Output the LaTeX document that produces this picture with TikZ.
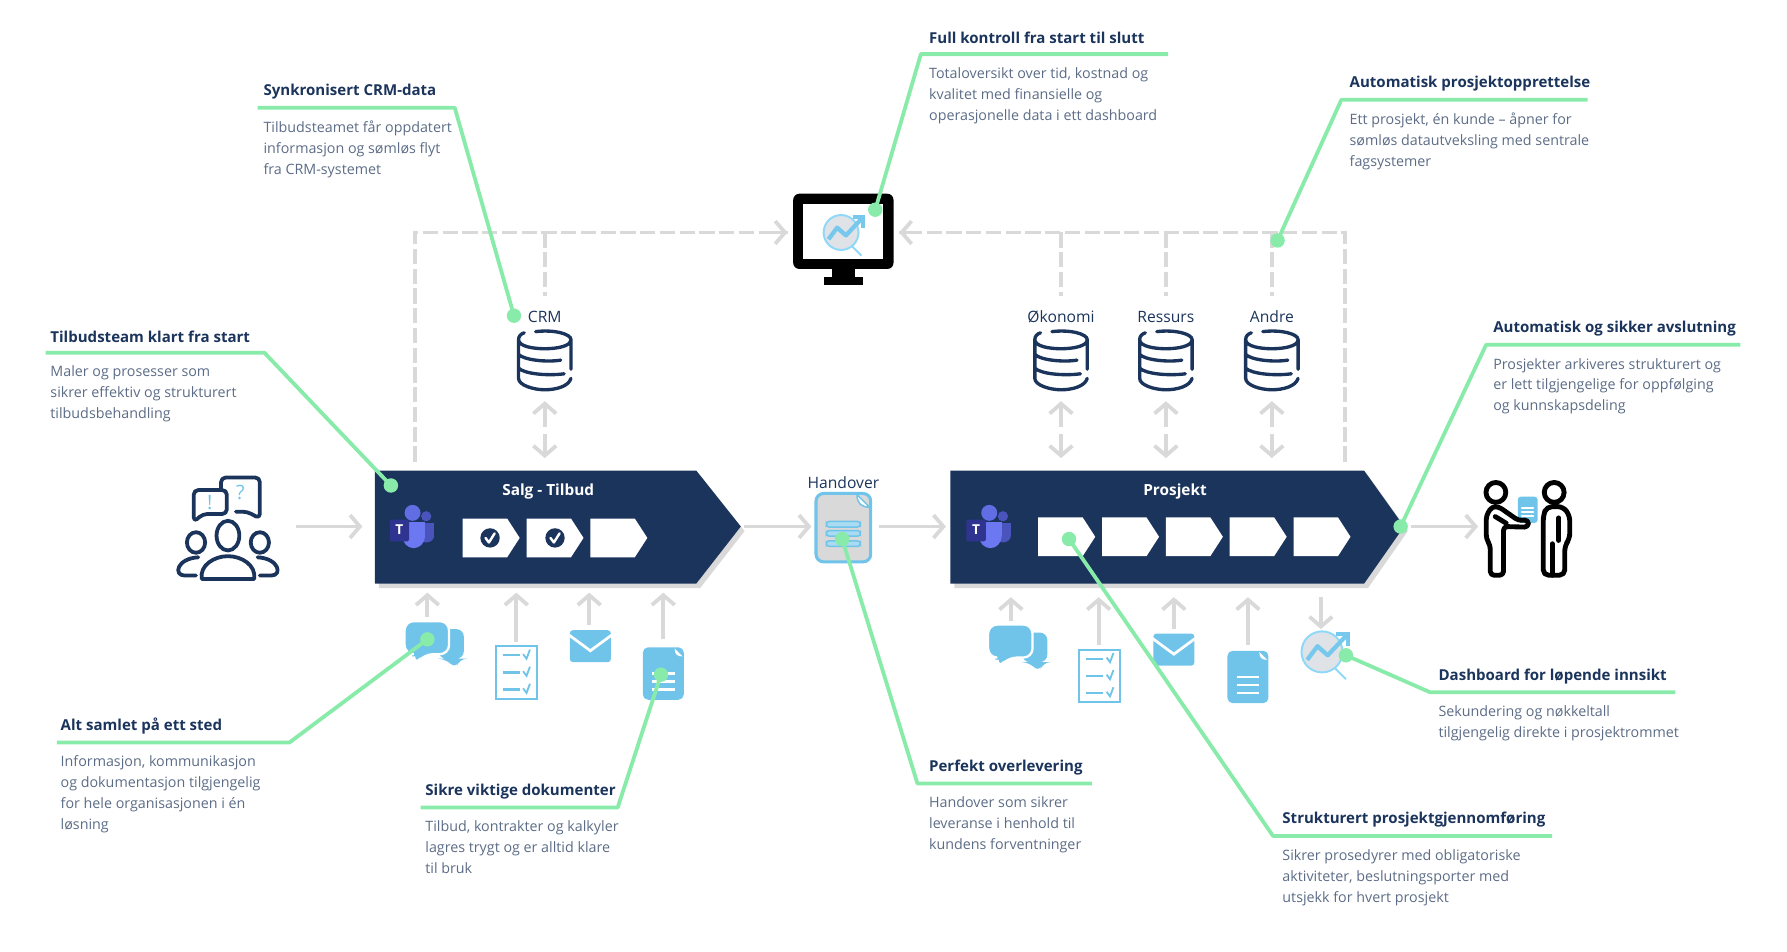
\documentclass[tikz,border=0pt]{standalone}
\usepackage{fontspec}
\setmainfont{Open Sans}
\usepackage{xcolor}
\usetikzlibrary{arrows.meta,shadows}

\definecolor{navy}{HTML}{1B345C}
\definecolor{bodytext}{HTML}{5C6C86}
\definecolor{mint}{HTML}{88EBA9}
\definecolor{arrowgrey}{HTML}{D9D9D9}
\definecolor{skyblue}{HTML}{70C4EA}
\definecolor{lensgrey}{HTML}{DFE3E8}
\definecolor{lensblue}{HTML}{8FD8F8}
\definecolor{teamsback}{HTML}{4B53BC}
\definecolor{teamsfront}{HTML}{6B78F2}
\definecolor{teamsdark}{HTML}{2E3490}

\tikzset{
greyarrow/.style={draw=arrowgrey,line width=2.5pt,-{Straight Barb[length=6.5pt,width=15pt,line width=2.5pt]}},
greydash/.style={draw=arrowgrey,line width=2.5pt,dash pattern=on 10pt off 3pt},
headtext/.style={anchor=west,inner sep=0pt,yshift=-1pt,text=navy,font=\fontsize{9.9}{13}\selectfont\bfseries},
bodynote/.style={anchor=north west,inner sep=0pt,yshift=-1.5pt,align=left,text=bodytext,font=\fontsize{9.4}{13.75}\selectfont},
labeltext/.style={inner sep=0pt,yshift=-0.8pt,text=navy,font=\fontsize{10.3}{13}\selectfont},
boxtitle/.style={inner sep=0pt,yshift=-1.8pt,text=white,font=\fontsize{10.1}{13}\selectfont\bfseries},
calloutline/.style={draw=mint,line width=2.5pt,line join=round},
calloutdot/.style={circle,fill=mint,inner sep=0pt,minimum size=9.5pt},
pics/database/.style={code={
  \draw[navy,line width=2.2pt,line cap=round]
    (-8,-25) .. controls (8,-27) and (23,-23) .. (23,-18) .. controls (23,-12) and (10,-10) .. (0,-10)
    .. controls (-10,-10) and (-23,-12) .. (-23,-18) .. controls (-23,-21) and (-21,-23) .. (-18,-24)
    (-23,-18) -- (-23,16) .. controls (-23,22) and (-10,26) .. (0,26) .. controls (10,26) and (21,23) .. (23,16)
    (23,-18) -- (23,8)
    (-23,-5) .. controls (-18,0) and (2,2) .. (14,0)
    (-23,7) .. controls (-18,12) and (2,14) .. (17,12);
}},
pics/teamsicon/.style={code={
  \fill[teamsback] (13,-9) circle [radius=4.5];
  \fill[teamsback] (7,-3) rectangle (20,8);
  \fill[teamsback] (13,8) ellipse [x radius=7,y radius=6];
  \fill[teamsfront!70!teamsback] (1,-12) circle [radius=7];
  \fill[teamsfront] (-8,-4) rectangle (12,8);
  \fill[teamsfront] (2,8) ellipse [x radius=10,y radius=11];
  \fill[teamsdark,rounded corners=1pt] (-19,-6) rectangle (-2,13);
  \node[inner sep=0pt,text=white,font=\fontsize{9}{9}\selectfont\bfseries] (teamsT) at (-10.5,3) {T};
}},
pics/checkmark/.style={code={
  \fill[navy] (0,0) circle [radius=8.5];
  \draw[white,line width=1.6pt,line cap=round,line join=round] (-4,0) -- (-1,4) -- (4,-4);
}},
pics/chatbubbles/.style={code={
  \fill[skyblue,rounded corners=5pt] (4,-14) -- (26,-14) -- (26,12) -- (22,12) -- (19,21) -- (10,12) -- (4,12) -- cycle;
  \fill[skyblue,draw=white,line width=1.5pt,rounded corners=6pt] (-26,-21) -- (13,-21) -- (13,8) -- (-9,8) -- (-17,18) -- (-18,8) -- (-26,8) -- cycle;
}},
pics/checklist/.style={code={
  \draw[skyblue,fill=white,line width=1.4pt] (-18,-23) rectangle (18,23);
  \foreach \y in {-12,3,18}{
    \draw[skyblue,line width=1.5pt] (-12,\y-3) -- (3,\y-3);
    \draw[skyblue,line width=1.2pt] (6,\y-4) -- (9,\y) -- (12,\y-8);
  }
}},
pics/mailicon/.style={code={
  \fill[skyblue,rounded corners=2pt] (-18,-14) rectangle (18,14);
  \draw[white,line width=1.8pt] (-19,-10) -- (0,4) -- (19,-10);
}},
pics/docicon/.style={code={
  \fill[skyblue,rounded corners=3.5pt] (-18,-23) rectangle (18,23);
  \fill[white] (10,-22) -- (17,-15) .. controls (12,-15) and (10,-17) .. (10,-22);
  \foreach \y in {0,7,14}{
    \draw[white,line width=1.4pt] (-10,\y) -- (10,\y);
  }
}},
pics/chartlens/.style={code={
  \draw[lensblue,fill=lensgrey,line width=1.3pt] (0,0) circle [radius=18];
  \draw[lensblue,line width=1.3pt] (11,14) -- (21,24);
  \draw[skyblue!80!lensblue,line width=2.8pt,line join=round] (-13,7) -- (-4,-5) -- (5,3) -- (21,-14);
  \draw[skyblue!80!lensblue,line width=2.8pt] (12,-16) -- (23,-16) -- (23,-5);
}},
}

% one heading with its note and its green leader
\newcommand{\callout}[8]{
\node[headtext] (#1-head) at (#2,#3) {#4};
\node[bodynote] (#1-note) at (#2,#3+25) {#5};
\coordinate (#1-start) at (#6,#3+15.5);
\coordinate (#1-corner) at (#7,#3+15.5);
\node[calloutdot] (#1-dot) at (#8) {};
\draw[calloutline] (#1-start) -- (#1-corner) -- (#1-dot.center);
}

\begin{document}
\begin{tikzpicture}[x=0.75pt,y=-0.75pt]
\useasboundingbox (0,0) rectangle (1568,835.3);

% The dashed collectors
\coordinate (leftfoot) at (364,405);
\coordinate (leftcorner) at (364,204);
\coordinate (rightfoot) at (1180,405);
\coordinate (rightcorner) at (1180,204);
\coordinate (screenleft) at (691,204);
\coordinate (screenright) at (789,204);
\draw[greydash] (leftfoot) -- (leftcorner) -- (screenleft);
\draw[greydash] (rightfoot) -- (rightcorner) -- (screenright);
\draw[greyarrow] ([xshift=-14pt]screenleft) -- (screenleft);
\draw[greyarrow] ([xshift=14pt]screenright) -- (screenright);

% The databases
\foreach \dbname/\dbx/\dbtext in {crm/478/CRM,okonomi/931/Økonomi,ressurs/1023/Ressurs,andre/1116/Andre}{
  \node[labeltext] (\dbname-label) at (\dbx,277) {\dbtext};
  \pic at (\dbx,316) {database};
  \coordinate (\dbname-top) at (\dbx,204);
  \coordinate (\dbname-drop) at (\dbx,260);
  \coordinate (\dbname-up) at (\dbx,352);
  \coordinate (\dbname-mid) at (\dbx,377);
  \coordinate (\dbname-down) at (\dbx,402);
  \draw[greydash] (\dbname-top) -- (\dbname-drop);
  \draw[greyarrow] ([yshift=2pt]\dbname-mid) -- (\dbname-up);
  \draw[greyarrow] ([yshift=-3pt]\dbname-mid) -- (\dbname-down);
}

% The two process arrows
\coordinate (salgA) at (329,413);
\coordinate (salgB) at (611,413);
\coordinate (salgC) at (650,462);
\coordinate (salgD) at (611,512);
\coordinate (salgE) at (329,512);
\fill[navy,drop shadow={shadow xshift=2.5pt,shadow yshift=-3pt,opacity=.3}] (salgA) -- (salgB) -- (salgC) -- (salgD) -- (salgE) -- cycle;
\coordinate (prosjektA) at (834,413);
\coordinate (prosjektB) at (1197,413);
\coordinate (prosjektC) at (1232,462);
\coordinate (prosjektD) at (1197,512);
\coordinate (prosjektE) at (834,512);
\fill[navy,drop shadow={shadow xshift=2.5pt,shadow yshift=-3pt,opacity=.3}] (prosjektA) -- (prosjektB) -- (prosjektC) -- (prosjektD) -- (prosjektE) -- cycle;
\node[boxtitle] (salgtitle) at (481,429) {Salg - Tilbud};
\node[boxtitle] (prosjekttitle) at (1031,429) {Prosjekt};
\pic at (361,462) {teamsicon};
\pic at (867,462) {teamsicon};
\foreach \stepx in {406,462,518}{
  \fill[white] (\stepx,455) -- (\stepx+39,455) -- (\stepx+50,472) -- (\stepx+39,489) -- (\stepx,489) -- cycle;
}
\foreach \stepx in {911,967,1023,1079,1135}{
  \fill[white] (\stepx,454) -- (\stepx+39,454) -- (\stepx+50,471) -- (\stepx+39,488) -- (\stepx,488) -- cycle;
}
\pic at (430,472) {checkmark};
\pic at (487,472) {checkmark};

% The people on the left
\begin{scope}[navy,line width=2.5pt,line cap=round,line join=round]
\draw[rounded corners=3pt] (194,430) -- (194,419) -- (228,419) -- (228,455) -- (217,449) -- (207,449);
\draw[rounded corners=3pt] (170,430) -- (199,430) -- (199,451) -- (178,451) -- (170,458) -- cycle;
\draw (200,470) ellipse [x radius=10,y radius=13];
\draw (172,476) ellipse [x radius=8,y radius=9];
\draw (228,476) ellipse [x radius=8,y radius=9];
\draw (177,508) .. controls (175,496) and (188,488) .. (200,488) .. controls (212,488) and (225,496) .. (223,508) -- cycle;
\draw (172,505) -- (162,505) .. controls (152,505) and (155,490) .. (174,489);
\draw (228,505) -- (238,505) .. controls (248,505) and (245,490) .. (226,489);
\end{scope}
\node[inner sep=0pt,text=skyblue,font=\fontsize{13}{13}\selectfont] (mark1) at (184,441) {!};
\node[inner sep=0pt,text=skyblue,font=\fontsize{13}{13}\selectfont] (mark2) at (211,432) {?};

% The icons under the arrows
\pic at (381,566) {chatbubbles};
\pic at (453,590) {checklist};
\pic at (518,567) {mailicon};
\pic at (582,591) {docicon};
\pic at (893,569) {chatbubbles};
\pic at (965,593) {checklist};
\pic at (1030,570) {mailicon};
\pic at (1095,594) {docicon};
\pic at (1160,572) {chartlens};

% The monitor
\fill[black,rounded corners=4pt] (696,170) rectangle (784,236);
\fill[white] (705,179) rectangle (775,227);
\fill[black] (730,236) rectangle (750,243);
\fill[black] (723,243) rectangle (757,250);
\pic[scale=0.85] at (738,204) {chartlens};

% The handover sheet
\node[labeltext] (handoverlabel) at (740,422) {Handover};
\fill[arrowgrey,draw=skyblue,line width=2pt,rounded corners=5pt] (716,433) rectangle (764,493);
\fill[white,draw=skyblue,line width=1pt] (752,434) -- (763,445) .. controls (756,445) and (752,442) .. (752,434);
\foreach \sheety in {460,468,477}{
  \draw[skyblue,fill=skyblue!60!white,line width=1pt,rounded corners=2pt] (725,\sheety-2.5) rectangle (755,\sheety+2.5);
}

% The two people on the right
\begin{scope}[shift={(1211.7,387)},x=0.218pt,y=-0.218pt,black,line width=3.2pt,line cap=round,line join=round]
\fill[skyblue,rounded corners=2pt] (413,168) rectangle (473,247);
\foreach \sheety in {202,214,226}{
  \draw[white,line width=1pt] (425,\sheety) -- (460,\sheety);
}
\draw (347,155) circle [radius=30];
\draw (523,155) circle [radius=30];
\draw[rounded corners=2.5pt] (355,198) -- (415,240) -- (445,238) -- (445,260) -- (370,258) -- (370,405) -- (330,405) -- (330,315) -- (318,295) -- (318,225) -- (335,198) -- cycle;
\draw (345,228) -- (378,248);
\draw[rounded corners=3.5pt] (500,198) -- (550,198) -- (570,225) -- (570,295) -- (555,315) -- (555,405) -- (490,405) -- (490,225) -- cycle;
\draw (537,232) -- (537,300);
\draw (517,310) -- (517,405);
\end{scope}

% The grey flow arrows
\coordinate (peopleout) at (260,462);
\coordinate (salgin) at (318,462);
\coordinate (salgout) at (653,462);
\coordinate (sheetin) at (712,462);
\coordinate (sheetout) at (771,462);
\coordinate (prosjektin) at (830,462);
\coordinate (prosjektout) at (1238,462);
\coordinate (handin) at (1297,462);
\draw[greyarrow] (peopleout) -- (salgin);
\draw[greyarrow] (salgout) -- (sheetin);
\draw[greyarrow] (sheetout) -- (prosjektin);
\draw[greyarrow] (prosjektout) -- (handin);
\foreach \arrowname/\arrowx/\arrowfoot/\arrowtip in {a/375/541/520,b/453/563/520,c/517/548/520,d/582/561/520,e/887/545/524,f/964/566/524,g/1030/552/524,h/1095/566/524,i/1159/524/552}{
  \coordinate (foot-\arrowname) at (\arrowx,\arrowfoot);
  \coordinate (tip-\arrowname) at (\arrowx,\arrowtip);
  \draw[greyarrow] (foot-\arrowname) -- (tip-\arrowname);
}

% The callouts
\callout{kontroll}{815}{32}{Full kontroll fra start til slutt}{Totaloversikt over tid, kostnad og\\kvalitet med finansielle og\\operasjonelle data i ett dashboard}{1025}{808}{768,184}
\callout{crmdata}{231}{79}{Synkronisert CRM-data}{Tilbudsteamet får oppdatert\\informasjon og sømløs flyt\\fra CRM-systemet}{226}{399}{451,277}
\callout{opprett}{1184}{72}{Automatisk prosjektopprettelse}{Ett prosjekt, én kunde – åpner for\\sømløs datautveksling med sentrale\\fagsystemer}{1393}{1177}{1121,211}
\callout{klart}{44}{294}{Tilbudsteam klart fra start}{Maler og prosesser som\\sikrer effektiv og strukturert\\tilbudsbehandling}{40}{232}{343,426}
\callout{avslutt}{1310}{287}{Automatisk og sikker avslutning}{Prosjekter arkiveres strukturert og\\er lett tilgjengelige for oppfølging\\og kunnskapsdeling}{1527}{1304}{1229,462}
\callout{samlet}{53}{636}{Alt samlet på ett sted}{Informasjon, kommunikasjon\\og dokumentasjon tilgjengelig\\for hele organisasjonen i én\\løsning}{50}{254}{375,561}
\callout{dokument}{373}{693}{Sikre viktige dokumenter}{Tilbud, kontrakter og kalkyler\\lagres trygt og er alltid klare\\til bruk}{369}{542}{580,592}
\callout{levering}{815}{672}{Perfekt overlevering}{Handover som sikrer\\leveranse i henhold til\\kundens forventninger}{958}{805}{739,473}
\callout{gjennom}{1125}{718}{Strukturert prosjektgjennomføring}{Sikrer prosedyrer med obligatoriske\\aktiviteter, beslutningsporter med\\utsjekk for hvert prosjekt}{1362}{1117}{938,473}
\callout{innsikt}{1262}{592}{Dashboard for løpende innsikt}{Sekundering og nøkkeltall\\tilgjengelig direkte i prosjektrommet}{1470}{1255}{1181,575}
\end{tikzpicture}
\end{document}
